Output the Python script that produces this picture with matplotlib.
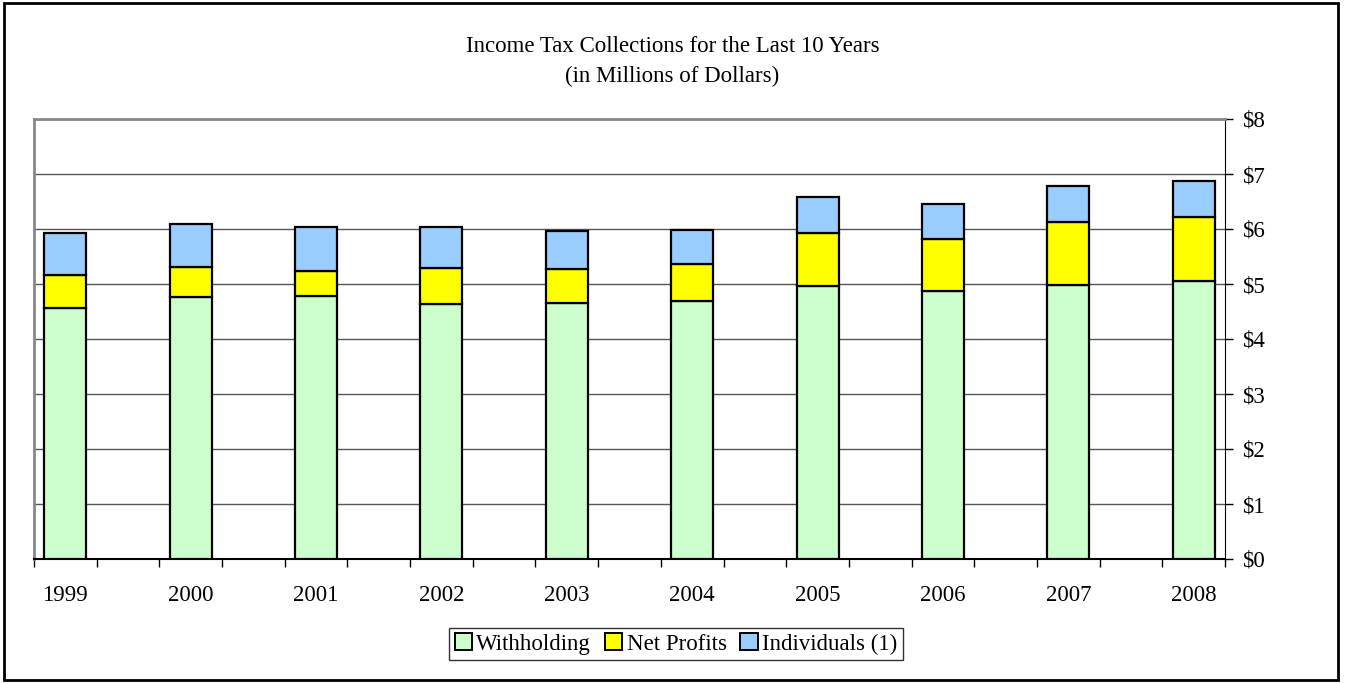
import matplotlib
matplotlib.use("Agg")
import matplotlib.pyplot as plt
import numpy as np
from matplotlib.patches import Rectangle

# Values (millions of dollars)
years = ["1999", "2000", "2001", "2002", "2003", "2004", "2005", "2006", "2007", "2008"]
withholding = [4.56, 4.77, 4.78, 4.64, 4.66, 4.69, 4.96, 4.88, 4.98, 5.05]
net_profits = [0.60, 0.54, 0.46, 0.65, 0.61, 0.67, 0.97, 0.94, 1.15, 1.16]
individuals = [0.77, 0.78, 0.80, 0.74, 0.69, 0.63, 0.66, 0.63, 0.66, 0.66]
y_ticks = [0, 1, 2, 3, 4, 5, 6, 7, 8]

plt.rcParams["font.family"] = ["Liberation Serif", "DejaVu Serif"]
FS = 16.5

fig = plt.figure(figsize=(13.45, 6.84), dpi=100)
ax = fig.add_axes([34 / 1345, 1 - 559 / 684, (1225 - 34) / 1345, (559 - 119) / 684])

# bars sit on every other slot, Excel-style gap categories
x = np.arange(len(years)) * 2
wh = np.array(withholding)
npf = np.array(net_profits)
ind = np.array(individuals)

kw = dict(width=0.67, edgecolor="black", linewidth=1.6, zorder=3)
ax.bar(x, wh, color="#CCFFCC", label="Withholding", **kw)
ax.bar(x, npf, bottom=wh, color="#FFFF00", label="Net Profits", **kw)
ax.bar(x, ind, bottom=wh + npf, color="#99CCFF", label="Individuals (1)", **kw)

ax.set_xlim(-0.5, x[-1] + 0.5)
ax.set_ylim(0, 8)

# y axis on the right
ax.yaxis.tick_right()
ax.set_yticks(y_ticks)
ax.set_yticklabels([f"${v}" for v in y_ticks])
ax.tick_params(axis="y", direction="out", length=6, width=1, color="black",
               labelsize=FS, pad=6)
ax.grid(axis="y", color="#555555", linewidth=1, zorder=0)

# year labels without marks, tick marks at category boundaries
ax.set_xticks(x)
ax.set_xticklabels(years)
ax.tick_params(axis="x", length=0, labelsize=FS, pad=19)
ax.set_xticks(np.arange(-0.5, x[-1] + 1, 1.0), minor=True)
ax.tick_params(axis="x", which="minor", direction="out", length=6, width=1, color="black")

for side in ["left", "top"]:
    ax.spines[side].set_color("#888888")
    ax.spines[side].set_linewidth(2)
ax.spines["right"].set_color("black")
ax.spines["bottom"].set_color("black")
ax.spines["bottom"].set_linewidth(1.5)

fig.text(0.5, 1 - 47 / 684, "Income Tax Collections for the Last 10 Years",
         ha="center", va="center", fontsize=FS)
fig.text(0.5, 1 - 76 / 684, "(in Millions of Dollars)",
         ha="center", va="center", fontsize=FS)

leg = fig.legend(loc="center", bbox_to_anchor=(676 / 1345, 1 - 644 / 684), ncol=3,
                 fontsize=FS, frameon=True, fancybox=False, handlelength=0.75,
                 handleheight=0.75, handletextpad=0.2, columnspacing=0.6,
                 borderpad=0.25)
leg.get_frame().set_edgecolor("black")
leg.get_frame().set_linewidth(1)
for h in leg.legend_handles:
    h.set_linewidth(1.4)

# outer chart frame
fig.patches.append(Rectangle((4 / 1345, 4 / 684), 1334 / 1345, 677 / 684,
                             transform=fig.transFigure, fill=False,
                             edgecolor="black", linewidth=2))

fig.savefig("out.png", dpi=100)
